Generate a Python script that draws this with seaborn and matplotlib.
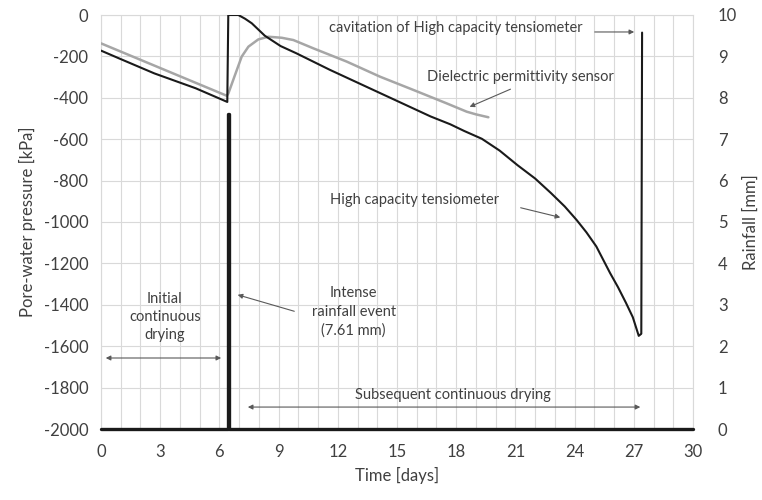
import numpy as np
import pandas as pd
import matplotlib
matplotlib.use("Agg")
import matplotlib.pyplot as plt
import seaborn as sns
from matplotlib.ticker import MultipleLocator

# Datos
# Tensiometro de alta capacidad (linea negra)
t_tens = [0.0, 0.9, 2.7, 4.8, 6.40, 6.45, 6.96, 7.3, 7.64, 8.3, 9.1, 9.9,
          11.6, 13.3, 15.0, 16.7, 17.7, 18.4, 19.3, 20.2, 21.1, 22.0, 22.8,
          23.5, 24.1, 24.6, 25.1, 25.8, 26.2, 26.6, 26.95, 27.25, 27.38,
          27.42]
p_tens = [-172, -209, -282, -354, -420, 0, 0, -18, -40, -100, -150, -185,
          -265, -340, -415, -490, -528, -560, -598, -655, -725, -790, -860,
          -925, -990, -1050, -1118, -1247, -1315, -1390, -1460, -1550, -1540,
          -85]

# Sensor de permitividad dielectrica (linea gris)
t_diel = [0.0, 6.37, 6.45, 6.79, 7.13, 7.47, 7.97, 8.48, 9.16, 9.75, 10.76,
          12.45, 14.14, 15.83, 17.52, 18.53, 19.0, 19.63]
p_diel = [-137, -390, -380, -290, -201, -153, -118, -105, -110, -121, -161,
          -225, -298, -362, -427, -467, -480, -494]

# Lluvia (eje derecho)
t_rain = [0.0, 6.42, 6.42, 6.47, 6.47, 30.0]
r_rain = [0.0, 0.0, 7.61, 7.61, 0.0, 0.0]

x_ticks = np.arange(0, 31, 3)
y_ticks = np.arange(-2000, 1, 200)
y2_ticks = np.arange(0, 11, 1)

sns.set_style("white")
plt.rcParams['font.family'] = ['Lato', 'DejaVu Sans']
plt.rcParams['axes.unicode_minus'] = False
txt = '#404040'
arr = '#595959'

fig = plt.figure(figsize=(7.62, 5.0), dpi=100)
ax = fig.add_axes([101/762, 71/500, 592/762, 414/500])

df_t = pd.DataFrame({'t': t_tens, 'p': p_tens})
df_d = pd.DataFrame({'t': t_diel, 'p': p_diel})
sns.lineplot(data=df_d, x='t', y='p', ax=ax, color='#a6a6a6', lw=1.8,
             estimator=None, sort=False, zorder=3)
sns.lineplot(data=df_t, x='t', y='p', ax=ax, color='#1a1a1a', lw=1.5,
             estimator=None, sort=False, zorder=4)

ax.set_xlim(0, 30)
ax.set_ylim(-2000, 0)
ax.set_xticks(x_ticks)
ax.set_yticks(y_ticks)
ax.xaxis.set_minor_locator(MultipleLocator(1))
ax.grid(True, which='both', axis='x', color='#d9d9d9', lw=0.8)
ax.grid(True, which='major', axis='y', color='#d9d9d9', lw=0.8)
ax.set_axisbelow(True)
ax.tick_params(axis='x', which='major', length=5, color='#bfbfbf',
               labelsize=12, labelcolor=txt, pad=6)
ax.tick_params(axis='x', which='minor', length=0)
ax.tick_params(axis='y', length=0, labelsize=12, labelcolor=txt, pad=9)
ax.set_xlabel('Time [days]', fontsize=12, color=txt, labelpad=5)
ax.set_ylabel('Pore-water pressure [kPa]', fontsize=12, color=txt, labelpad=6)
for s in ax.spines.values():
    s.set_color('#d9d9d9')
    s.set_linewidth(0.8)

ax2 = ax.twinx()
df_r = pd.DataFrame({'t': t_rain, 'r': r_rain})
sns.lineplot(data=df_r, x='t', y='r', ax=ax2, color='#1a1a1a', lw=2.4,
             estimator=None, sort=False, zorder=5)
for ln in ax2.lines:
    ln.set_clip_on(False)
ax2.set_ylim(0, 10)
ax2.set_yticks(y2_ticks)
ax2.tick_params(axis='y', length=0, labelsize=12, labelcolor=txt, pad=18)
ax2.set_ylabel('Rainfall [mm]', fontsize=12, color=txt, labelpad=4)
ax2.set_xlabel('')
for s in ax2.spines.values():
    s.set_visible(False)

# Anotaciones
ap = dict(arrowstyle='-|>', color=arr, lw=0.8, mutation_scale=7)
ap2 = dict(arrowstyle='<|-|>', color=arr, lw=0.8, mutation_scale=7)
fs = 10.5

ax.text(18.0, -63, 'cavitation of High capacity tensiometer', ha='center',
        va='center', fontsize=fs, color=txt)
ax.annotate('', xy=(27.16, -82), xytext=(24.88, -82), arrowprops=ap)

ax.text(21.23, -300, 'Dielectric permittivity sensor', ha='center',
        va='center', fontsize=fs, color=txt)
ax.annotate('', xy=(18.55, -449), xytext=(20.88, -353), arrowprops=ap)

ax.text(15.91, -894, 'High capacity tensiometer', ha='center',
        va='center', fontsize=fs, color=txt)
ax.annotate('', xy=(23.41, -981), xytext=(21.13, -928), arrowprops=ap)

ax.text(3.24, -1459, 'Initial\ncontinuous\ndrying', ha='center',
        va='center', fontsize=fs, color=txt, linespacing=1.4)
ax.annotate('', xy=(0.1, -1657), xytext=(6.23, -1657), arrowprops=ap2)

ax.text(12.8, -1435, 'Intense\nrainfall event\n(7.61 mm)', ha='center',
        va='center', fontsize=fs, color=txt, linespacing=1.4)
ax.annotate('', xy=(6.79, -1348), xytext=(9.93, -1435), arrowprops=ap)

ax.text(17.85, -1836, 'Subsequent continuous drying', ha='center',
        va='center', fontsize=fs, color=txt)
ax.annotate('', xy=(7.3, -1894), xytext=(27.47, -1894), arrowprops=ap2)

fig.savefig('out.png', dpi=100)
